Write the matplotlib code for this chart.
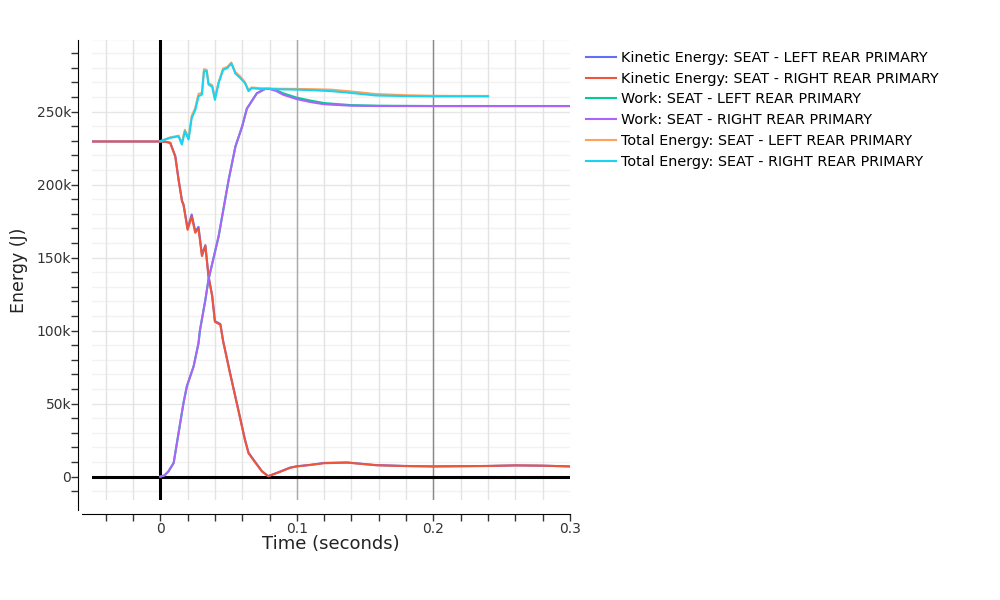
import numpy as np
import matplotlib.pyplot as plt
from matplotlib.ticker import MultipleLocator, FuncFormatter

# kinetic energy (kJ)
t_ke = [-0.05, 0.0, 0.004, 0.0073, 0.011, 0.0134, 0.0159, 0.017, 0.020, 0.023,
        0.0256, 0.028, 0.0305, 0.033, 0.0353, 0.038, 0.040, 0.044, 0.046, 0.051,
        0.057, 0.062, 0.0646, 0.068, 0.0744, 0.079, 0.087, 0.095, 0.1, 0.11,
        0.12, 0.137, 0.158, 0.18, 0.2, 0.24, 0.26, 0.28, 0.3]
ke_left = [229.5, 229.5, 229.3, 228.6, 219.5, 203.5, 189, 186.5, 170, 179.5,
           168, 171, 152, 158.5, 137.5, 124, 106.5, 104.5, 93, 71.5,
           46.5, 25.5, 16.5, 12, 3.8, 0.3, 3.2, 6.2, 7.1, 8.1,
           9.4, 9.7, 7.9, 7.3, 7.0, 7.3, 7.7, 7.5, 7.0]
ke_right = [229.5, 229.5, 229.3, 228.5, 219, 203, 188.5, 186, 169, 178,
            167, 170, 151, 158, 137, 123.5, 106, 104, 92.7, 71,
            46, 25, 16, 11.6, 3.6, 0.3, 3, 6, 7, 8,
            9.2, 9.6, 7.8, 7.2, 7.0, 7.3, 7.7, 7.5, 7.0]

# work (kJ)
t_w = [0, 0.003, 0.006, 0.0098, 0.0134, 0.017, 0.0195, 0.0244, 0.028, 0.029,
       0.033, 0.0353, 0.0427, 0.05, 0.055, 0.06, 0.0634, 0.0707, 0.0768, 0.08,
       0.085, 0.09, 0.1, 0.11, 0.12, 0.14, 0.16, 0.2, 0.25, 0.3]
work_left = [0, 0.8, 3.6, 9.4, 30, 50.5, 62, 75.5, 91.5, 100,
             121, 135, 164.5, 203, 226, 240, 252, 262.5, 265.5, 265.6,
             264.6, 262.5, 259.5, 257.5, 255.8, 254.4, 254, 253.8, 253.8, 253.8]
work_right = [0, 0.8, 3.6, 9.4, 30, 50.5, 62, 75.5, 91.5, 100,
              121, 135, 164.5, 203, 226, 240, 252, 262.5, 265.5, 265.5,
              264, 261.5, 258.5, 256.5, 255, 254, 253.8, 253.7, 253.7, 253.7]

# total energy (kJ)
t_te = [0, 0.0073, 0.0134, 0.0158, 0.018, 0.0207, 0.023, 0.0256, 0.028, 0.0305,
        0.032, 0.034, 0.0353, 0.038, 0.040, 0.0427, 0.046, 0.049, 0.052, 0.055,
        0.0585, 0.062, 0.0646, 0.067, 0.073, 0.08, 0.088, 0.1, 0.112, 0.125,
        0.137, 0.158, 0.18, 0.2, 0.22, 0.24]
te_left = [229.7, 232.3, 233.5, 228.5, 237.5, 232, 247, 252.5, 262, 263,
           279, 278.5, 269.5, 268, 259.5, 270, 279.5, 280.5, 283.5, 277,
           274, 270, 264.8, 266.5, 266, 265.8, 265.6, 265.5, 265.3, 265,
           264, 262, 261.2, 260.8, 260.7, 260.7]
te_right = [229.7, 232, 233, 227.4, 236.5, 230.8, 245.6, 251, 260.5, 261.6,
            277.6, 277.6, 268.5, 267, 258, 269.5, 278.6, 279.7, 283, 276,
            273, 269.5, 264, 266, 265.5, 265.5, 265.2, 265, 264.6, 264,
            263, 261, 260.6, 260.4, 260.4, 260.4]

labels = ["Kinetic Energy: SEAT - LEFT REAR PRIMARY",
          "Kinetic Energy: SEAT - RIGHT REAR PRIMARY",
          "Work: SEAT - LEFT REAR PRIMARY",
          "Work: SEAT - RIGHT REAR PRIMARY",
          "Total Energy: SEAT - LEFT REAR PRIMARY",
          "Total Energy: SEAT - RIGHT REAR PRIMARY"]
colors = ["#636efa", "#EF553B", "#00cc96", "#ab63fa", "#FFA15A", "#19d3f3"]

fig = plt.figure(figsize=(10, 6), dpi=100)
ax = fig.add_axes([0.092, 1 - 500 / 600, 0.478, 460 / 600])

series = [(t_ke, ke_left), (t_ke, ke_right), (t_w, work_left), (t_w, work_right),
          (t_te, te_left), (t_te, te_right)]
for (t, e), lab, c in zip(series, labels, colors):
    ax.plot(t, np.array(e) * 1000, color=c, lw=1.5, label=lab, zorder=3)

x0, x1 = -0.05, 0.3
y0, y1 = -16000, 299000
ax.set_xlim(x0, x1)
ax.set_ylim(y0, y1)

# grid
ax.xaxis.set_major_locator(MultipleLocator(0.02))
ax.yaxis.set_major_locator(MultipleLocator(10000))
for y in np.arange(-10000, 300001, 10000):
    ax.axhline(y, color="#e6e6e6" if y % 50000 == 0 else "#f2f2f2", lw=1, zorder=0)
for x in np.arange(-0.04, 0.3, 0.02):
    ax.axvline(x, color="#e3e3e3", lw=1, zorder=0)
ax.axvline(0.1, color="#aaaaaa", lw=1, zorder=1)
ax.axvline(0.2, color="#888888", lw=1, zorder=1)
ax.axhline(0, color="black", lw=2.2, zorder=2)
ax.axvline(0, color="black", lw=2.2, zorder=2)

def xfmt(v, pos):
    r = round(v, 4)
    if abs(r) < 1e-9:
        return "0"
    if abs(r * 10 - round(r * 10)) < 1e-6:
        return "%g" % r
    return ""

def yfmt(v, pos):
    if abs(v) < 1:
        return "0"
    if v % 50000 == 0 and v > 0:
        return "%dk" % (v / 1000)
    return ""

ax.xaxis.set_major_formatter(FuncFormatter(xfmt))
ax.yaxis.set_major_formatter(FuncFormatter(yfmt))
ax.tick_params(axis="both", direction="out", length=5, width=1, color="#333333",
               labelsize=10, labelcolor="#333333")
ax.tick_params(axis="x", pad=1)
ax.tick_params(axis="y", pad=0)

for s in ["top", "right"]:
    ax.spines[s].set_visible(False)
ax.spines["left"].set_position(("outward", 10))
ax.spines["bottom"].set_position(("outward", 10))
ax.spines["left"].set_bounds(y0 - 10 * (y1 - y0) / 460, y1)
ax.spines["bottom"].set_bounds(x0 - 10 * (x1 - x0) / 478, x1)

ax.set_xlabel("Time (seconds)", fontsize=13, color="#222222", labelpad=-1)
ax.set_ylabel("Energy (J)", fontsize=12.5, color="#222222", labelpad=6)

fig.legend(loc="upper left", bbox_to_anchor=(0.58, 0.925), frameon=False,
           fontsize=10.4, handlelength=2.1, handletextpad=0.35, labelspacing=0.47,
           borderaxespad=0)

fig.savefig("out.png", dpi=100)
